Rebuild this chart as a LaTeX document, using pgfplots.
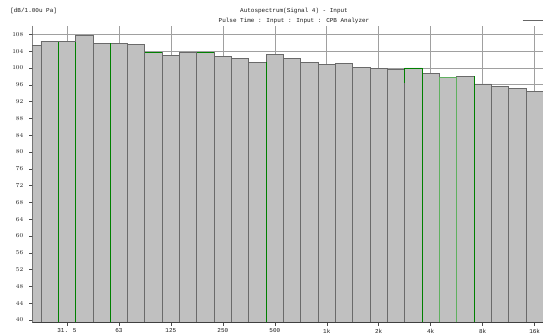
\documentclass[border=0pt]{standalone}
\usepackage{fontspec}
\setmainfont{Liberation Mono}
\usepackage{pgfplots}
\pgfplotsset{compat=1.18}
\definecolor{barfill}{HTML}{C0C0C0}
\definecolor{baredge}{HTML}{6A6A6A}
\definecolor{grn}{HTML}{008000}
\definecolor{lgrn}{HTML}{60B060}
\definecolor{gridc}{HTML}{A0A0A0}
\begin{document}
\begin{tikzpicture}
\useasboundingbox (-32.3bp,-12.3bp) rectangle (510.7bp,322.7bp);
\begin{axis}[
  at={(0,0)}, anchor=south west,
  scale only axis, width=511bp, height=296.7bp,
  xmin=0, xmax=29.5, ymin=39.35, ymax=110,
  axis line style={draw=none},
  ytick={40,44,...,108},
  xtick={2,5,...,29},
  xticklabels={31. 5,63,125,250,500,1k,2k,4k,8k,16k},
  tick align=outside, major tick length=3bp,
  tick style={black!70, line width=0.5pt},
  xtick pos=bottom, ytick pos=left,
  grid=major, grid style={gridc, line width=0.6pt},
  ticklabel style={font=\fontsize{6}{7}\selectfont, text=black!90},
  yticklabel style={xshift=-2.5bp},
  xticklabel style={yshift=0.5bp},
]
\addplot[ybar interval, fill=barfill, draw=baredge, line width=0.8pt] coordinates {
(-0.5,105.3) (0.5,106.4) (1.5,106.3) (2.5,107.7) (3.5,105.85) (4.5,105.85)
(5.5,105.7) (6.5,103.8) (7.5,103.0) (8.5,103.6) (9.5,103.8) (10.5,102.75)
(11.5,102.2) (12.5,101.4) (13.5,103.3) (14.5,102.2) (15.5,101.4) (16.5,100.8)
(17.5,101.0) (18.5,100.2) (19.5,99.9) (20.5,99.65) (21.5,100.0) (22.5,98.6)
(23.5,97.7) (24.5,98.0) (25.5,96.2) (26.5,95.6) (27.5,95.1) (28.5,94.4)
(29.5,94.4)};
% green highlighted edges
\addplot[grn, line width=0.8pt] coordinates {(1.5,39.35) (1.5,106.3)};
\addplot[grn, line width=0.8pt] coordinates {(2.5,39.35) (2.5,106.3)};
\addplot[grn, line width=0.8pt] coordinates {(4.5,39.35) (4.5,105.85)};
\addplot[grn, line width=0.8pt] coordinates {(6.5,103.8) (7.5,103.8)};
\addplot[grn, line width=0.8pt] coordinates {(9.5,103.8) (10.5,103.8)};
\addplot[grn, line width=0.8pt] coordinates {(13.5,39.35) (13.5,101.4)};
\addplot[grn, line width=0.8pt] coordinates {(21.5,96.5) (21.5,100.0) (22.5,100.0) (22.5,39.35)};
\addplot[lgrn, line width=0.8pt] coordinates {(23.5,39.35) (23.5,97.7) (24.5,97.7) (24.5,39.35)};
\addplot[grn, line width=0.8pt] coordinates {(25.5,39.35) (25.5,98.0)};
% axis lines
\addplot[black!75, line width=0.6pt] coordinates {(0,110) (0,39.35) (29.5,39.35)};
\end{axis}
\node[font=\fontsize{6}{7}\selectfont, anchor=west, text=black!90] at (-25.5bp,311.7bp) {[dB/1.00u Pa]};
\node[font=\fontsize{6}{7}\selectfont, text=black!90] at (261.7bp,311.7bp) {Autospectrum(Signal 4) - Input};
\node[font=\fontsize{6}{7}\selectfont, text=black!90] at (261.7bp,302bp) {Pulse Time : Input : Input : CPB Analyzer};
\draw[black!60, line width=0.6pt] (490.4bp,302.7bp) -- (510.7bp,302.7bp);
\end{tikzpicture}
\end{document}
